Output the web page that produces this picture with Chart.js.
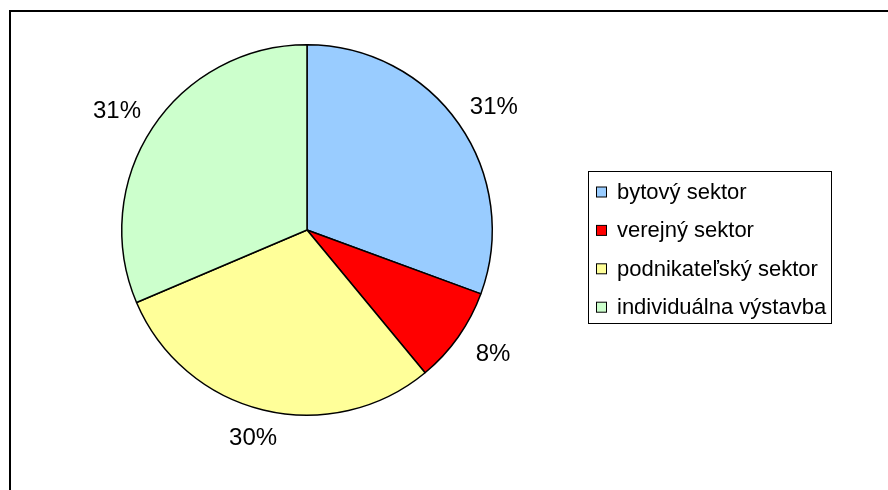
<!DOCTYPE html>
<html>
<head>
<meta charset="utf-8">
<script src="https://cdn.jsdelivr.net/npm/chart.js@4/dist/chart.umd.min.js"></script>
<style>
html,body{margin:0;padding:0;background:#fff;overflow:hidden;}
#wrap{position:relative;width:888px;height:490px;}
</style>
</head>
<body>
<div id="wrap"><canvas id="c" width="888" height="490"></canvas></div>
<script>
const categories = ["bytový sektor", "verejný sektor", "podnikateľský sektor", "individuálna výstavba"];
const shares = [30.6, 8.4, 29.6, 31.4];
const sliceColors = ["#99CCFF", "#FF0000", "#FFFF99", "#CCFFCC"];

const FONT = '"Liberation Sans", Arial, sans-serif';

const framePlugin = {
  id: 'frame',
  beforeDraw(chart) {
    const ctx = chart.ctx;
    ctx.save();
    ctx.fillStyle = '#fff';
    ctx.fillRect(0, 0, chart.width, chart.height);
    ctx.strokeStyle = '#000';
    ctx.lineWidth = 2;
    ctx.strokeRect(10, 11, 900, 500);
    ctx.restore();
  }
};

const labelPlugin = {
  id: 'pctLabels',
  afterDatasetsDraw(chart) {
    const ctx = chart.ctx;
    const meta = chart.getDatasetMeta(0);
    const data = chart.data.datasets[0].data;
    const total = data.reduce((a, b) => a + b, 0);
    ctx.save();
    ctx.font = '24px ' + FONT;
    ctx.fillStyle = '#000';
    ctx.textAlign = 'center';
    ctx.textBaseline = 'middle';
    meta.data.forEach((arc, i) => {
      const p = arc.getProps(['x', 'y', 'startAngle', 'endAngle', 'outerRadius'], true);
      const mid = (p.startAngle + p.endAngle) / 2;
      const rx = p.outerRadius * 1.23;
      const ry = p.outerRadius * 1.16;
      const x = p.x + Math.cos(mid) * rx;
      const y = p.y + Math.sin(mid) * ry;
      ctx.fillText(Math.round(data[i] / total * 100) + '%', x, y);
    });
    ctx.restore();
  }
};

const legendPlugin = {
  id: 'boxLegend',
  afterDraw(chart) {
    const ctx = chart.ctx;
    const labels = chart.data.labels;
    const colors = chart.data.datasets[0].backgroundColor;
    ctx.save();
    ctx.strokeStyle = '#000';
    ctx.lineWidth = 1;
    ctx.strokeRect(588.5, 171.5, 243, 152);
    ctx.font = '22px ' + FONT;
    ctx.textBaseline = 'middle';
    ctx.textAlign = 'left';
    labels.forEach((lab, i) => {
      const cy = 192 + i * 38.4;
      ctx.fillStyle = colors[i];
      ctx.fillRect(596.5, cy - 5, 10, 10);
      ctx.strokeStyle = '#000';
      ctx.strokeRect(596.5, cy - 5, 10, 10);
      ctx.fillStyle = '#000';
      ctx.fillText(lab, 617, cy + 1);
    });
    ctx.restore();
  }
};

new Chart(document.getElementById('c'), {
  type: 'pie',
  data: {
    labels: categories,
    datasets: [{
      data: shares,
      backgroundColor: sliceColors,
      borderColor: '#000',
      borderWidth: 1.5
    }]
  },
  options: {
    responsive: false,
    animation: false,
    layout: { padding: { left: 121, right: 395, top: 44, bottom: 74 } },
    plugins: {
      legend: { display: false },
      tooltip: { enabled: false }
    }
  },
  plugins: [framePlugin, labelPlugin, legendPlugin]
});
</script>
</body>
</html>
